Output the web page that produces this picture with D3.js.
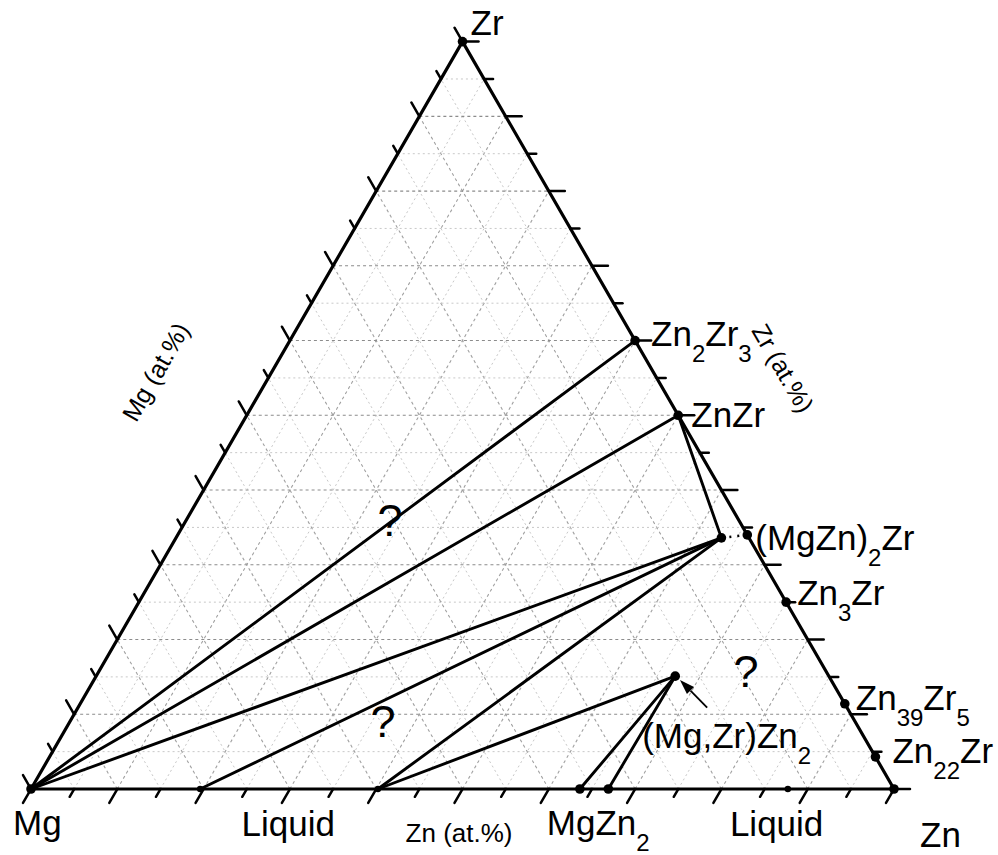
<!DOCTYPE html>
<html>
<head>
<meta charset="utf-8">
<script src="https://cdn.jsdelivr.net/npm/d3@7"></script>
<style>
  html, body { margin: 0; padding: 0; background: #fff; }
  svg { display: block; font-family: "Liberation Sans", Arial, Helvetica, sans-serif; }
</style>
</head>
<body>
<div id="chart"></div>
<script>
// Compositions are in at.% and ordered [Mg, Zn, Zr].
const pointIds  = ["Mg", "Zn", "Zr", "Zn2Zr3", "ZnZr", "MgZn2Zr_edge", "MgZn2Zr", "Zn3Zr", "Zn39Zr5", "Zn22Zr",
                   "MgZrZn2", "MgZn2_a", "MgZn2_b", "L1", "L2", "L3"];
const pointMg   = [100, 0,   0,   0,  0,  0,    3.2,  0,  0,    0,    17.8, 36.4, 33.1, 80.4, 59.8, 12.3];
const pointZn   = [0,   100, 0,   40, 50, 66,   63.2, 75, 88.6, 95.7, 67.1, 63.6, 66.9, 19.6, 40.2, 87.7];
const pointZr   = [0,   0,   100, 60, 50, 34,   33.6, 25, 11.4, 4.3,  15.1, 0,    0,    0,    0,    0];

// labelled points and their label text (digits become subscripts)
const labelIds   = ["Zr", "Mg", "Zn", "Zn2Zr3", "ZnZr", "MgZn2Zr_edge", "Zn3Zr", "Zn39Zr5", "Zn22Zr", "MgZrZn2", "MgZn2_a"];
const labelTexts = ["Zr", "Mg", "Zn", "Zn2Zr3", "ZnZr", "(MgZn)2Zr", "Zn3Zr", "Zn39Zr5", "Zn22Zr", "(Mg,Zr)Zn2", "MgZn2"];

// tie lines (solid)
const tieFrom = ["Mg", "Mg",   "Mg",      "ZnZr",    "L1",      "L2",      "L2",      "MgZrZn2", "MgZrZn2"];
const tieTo   = ["Zn2Zr3", "ZnZr", "MgZn2Zr", "MgZn2Zr", "MgZn2Zr", "MgZn2Zr", "MgZrZn2", "MgZn2_a", "MgZn2_b"];

// dotted connection
const dottedFrom = ["MgZn2Zr"];
const dottedTo   = ["MgZn2Zr_edge"];

// dots drawn (big) and small dots
const dotIds = ["Mg", "Zr", "Zn", "Zn2Zr3", "ZnZr", "MgZn2Zr_edge", "MgZn2Zr", "Zn3Zr", "Zn39Zr5", "Zn22Zr",
                "MgZrZn2", "MgZn2_a", "MgZn2_b"];
const smallDotIds = ["L1", "L2", "L3"];

// free annotations: text and anchor composition [Mg, Zn, Zr]
const noteTexts = ["?", "?", "?", "Liquid", "Liquid"];
const noteComps = [[41.5, 24.7, 33.8], [55.7, 37.3, 7.0], [10.3, 76.0, 13.7], [70.2, 29.8, 0], [13.6, 86.4, 0]];

// arrow pointing at (Mg,Zr)Zn2
const arrowTail = [16.2, 72.9, 10.9];
const arrowHead = [17.5, 67.9, 14.6];

// axis ticks every 5 at.%, long ones every 10
const tickValues = d3.range(0, 101, 5);
const gridValues = d3.range(5, 100, 5);

const axisTitles = ["Mg (at.%)", "Zn (at.%)", "Zr (at.%)"];

// ---------- layout ----------
const width = 998, height = 855;
const x = d3.scaleLinear().domain([0, 1]).range([31, 894]);
const y = d3.scaleLinear().domain([0, 1]).range([789, 41.6]);

function proj(c) {
  const zn = c[1] / 100, zr = c[2] / 100;
  return [x(zn + zr / 2), y(zr)];
}
const pts = {};
pointIds.forEach((id, i) => { pts[id] = proj([pointMg[i], pointZn[i], pointZr[i]]); });

const bigFont = 35, subFont = 24, subDy = 16;

// label offsets from their dot (pixels)
const labelOffset = {
  "Zr": [8, -7], "Mg": [-18, 46], "Zn": [26, 58],
  "Zn2Zr3": [16, 5], "ZnZr": [13, 12], "MgZn2Zr_edge": [8, 15], "Zn3Zr": [11, 3],
  "Zn39Zr5": [11, 6], "Zn22Zr": [17, 6], "MgZrZn2": [-33, 72], "MgZn2_a": [-33, 46]
};

const svg = d3.create("svg")
  .attr("width", width)
  .attr("height", height)
  .attr("viewBox", [0, 0, width, height]);
d3.select("#chart").append(() => svg.node());

const line = d3.line();

// grid
const grid = svg.append("g").attr("fill", "none");
gridValues.forEach(t => {
  const major = t % 10 === 0;
  const segs = [
    [[100 - t, 0, t], [0, 100 - t, t]],   // Zr = t
    [[100 - t, t, 0], [0, t, 100 - t]],   // Zn = t
    [[t, 100 - t, 0], [t, 0, 100 - t]]    // Mg = t
  ];
  segs.forEach((s, k) => {
    grid.append("path")
      .attr("d", line(s.map(proj)))
      .attr("stroke", major ? (k === 0 ? "#8c8c8c" : "#a0a0a0") : "#c8c8c8")
      .attr("stroke-width", major ? 1.1 : 1)
      .attr("stroke-dasharray", major ? "3,3" : "2,3");
  });
});

// ticks
const ticks = svg.append("g").attr("stroke", "#000").attr("stroke-width", 2.5).attr("stroke-linecap", "round");
const tickDirs = [
  { comp: t => [100 - t, t, 0], dir: [-0.5, 0.866] },    // Zn axis on bottom edge
  { comp: t => [0, 100 - t, t], dir: [1, 0] },           // Zr axis on right edge
  { comp: t => [t, 0, 100 - t], dir: [-0.5, -0.866] }    // Mg axis on left edge
];
tickDirs.forEach(a => {
  tickValues.forEach(t => {
    const p = proj(a.comp(t));
    const len = t % 10 === 0 ? 16 : 9;
    ticks.append("path").attr("d", line([p, [p[0] + a.dir[0] * len, p[1] + a.dir[1] * len]]));
  });
});

// triangle
svg.append("path")
  .attr("d", line([pts.Mg, pts.Zn, pts.Zr]) + "Z")
  .attr("fill", "none")
  .attr("stroke", "#000")
  .attr("stroke-width", 3.2)
  .attr("stroke-linejoin", "round");

// tie lines
svg.append("g")
  .attr("fill", "none").attr("stroke", "#000").attr("stroke-width", 2.9)
  .attr("stroke-linecap", "round")
  .selectAll("path")
  .data(tieFrom.map((f, i) => [pts[f], pts[tieTo[i]]]))
  .join("path")
  .attr("d", d => line(d));

svg.append("g")
  .attr("fill", "none").attr("stroke", "#000").attr("stroke-width", 2.6)
  .attr("stroke-dasharray", "2,6")
  .selectAll("path")
  .data(dottedFrom.map((f, i) => [pts[f], pts[dottedTo[i]]]))
  .join("path")
  .attr("d", d => line(d));

// dots
svg.append("g")
  .selectAll("circle")
  .data(dotIds.map(d => [d, 4.8]).concat(smallDotIds.map(d => [d, 3.2])))
  .join("circle")
  .attr("cx", d => pts[d[0]][0])
  .attr("cy", d => pts[d[0]][1])
  .attr("r", d => d[1])
  .attr("fill", "#000");

// arrow
const tail = proj(arrowTail), head = proj(arrowHead);
const ang = Math.atan2(head[1] - tail[1], head[0] - tail[0]);
const hl = 15, hw = 5;
const base = [head[0] - Math.cos(ang) * hl, head[1] - Math.sin(ang) * hl];
svg.append("path")
  .attr("d", line([tail, base]))
  .attr("stroke", "#000").attr("stroke-width", 1.8);
svg.append("path")
  .attr("d", line([head,
    [base[0] + Math.sin(ang) * hw, base[1] - Math.cos(ang) * hw],
    [base[0] - Math.sin(ang) * hw, base[1] + Math.cos(ang) * hw]]) + "Z")
  .attr("fill", "#000");

// labels with subscripts
function addLabel(g, str, px, py, size, anchor) {
  const t = g.append("text")
    .attr("x", px).attr("y", py)
    .attr("font-size", size)
    .attr("text-anchor", anchor || "start")
    .attr("fill", "#000");
  let shifted = false;
  str.split(/(\d+)/).filter(s => s.length).forEach(p => {
    const ts = t.append("tspan").text(p);
    if (/^\d+$/.test(p)) {
      ts.attr("font-size", subFont).attr("dy", subDy);
      shifted = true;
    } else if (shifted) {
      ts.attr("dy", -subDy);
      shifted = false;
    }
  });
  return t;
}

const labels = svg.append("g");
labelIds.forEach((id, i) => {
  const o = labelOffset[id];
  addLabel(labels, labelTexts[i], pts[id][0] + o[0], pts[id][1] + o[1], bigFont);
});

// annotations
const noteDy = [0, 0, 0, 47, 47];
noteTexts.forEach((txt, i) => {
  const p = proj(noteComps[i]);
  labels.append("text")
    .attr("x", p[0]).attr("y", p[1] + noteDy[i])
    .attr("text-anchor", "middle")
    .attr("font-size", txt === "?" ? 45 : bigFont)
    .text(txt);
});

// axis titles
const mgAnchor = proj([51, 0, 49]);
svg.append("text")
  .attr("transform", `translate(${mgAnchor[0] - 87},${mgAnchor[1] - 51}) rotate(-60)`)
  .attr("text-anchor", "middle").attr("dominant-baseline", "central")
  .attr("font-size", 25)
  .text(axisTitles[0]);

const znAnchor = proj([50.4, 49.6, 0]);
svg.append("text")
  .attr("x", znAnchor[0]).attr("y", znAnchor[1] + 53)
  .attr("text-anchor", "middle")
  .attr("font-size", 26)
  .text(axisTitles[1]);

const zrAnchor = proj([0, 43.7, 56.3]);
svg.append("text")
  .attr("transform", `translate(${zrAnchor[0] + 132},${zrAnchor[1]}) rotate(60)`)
  .attr("text-anchor", "middle").attr("dominant-baseline", "central")
  .attr("font-size", 25)
  .text(axisTitles[2]);
</script>
</body>
</html>
